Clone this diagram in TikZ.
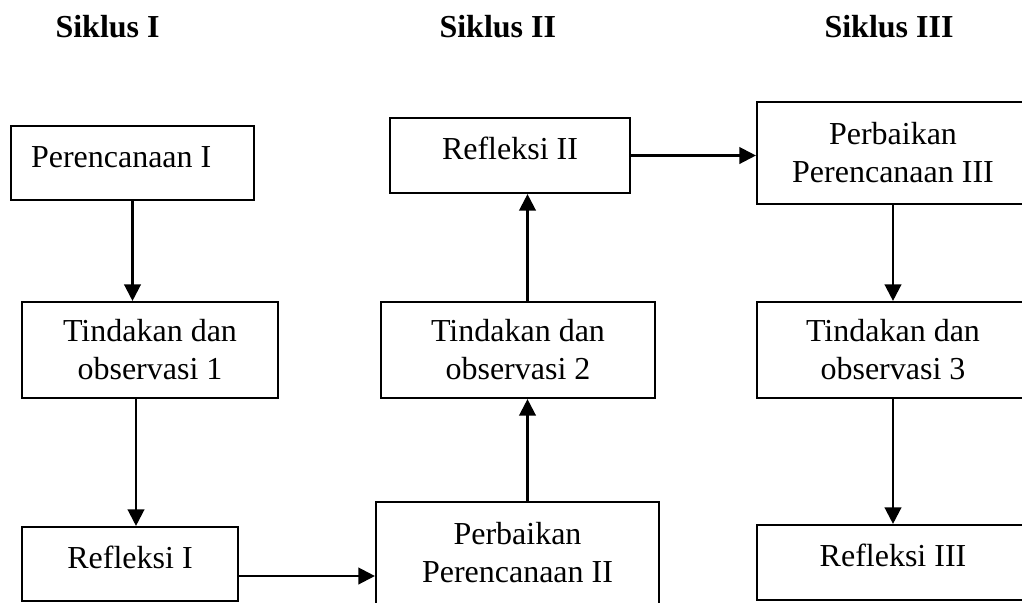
\documentclass[tikz,border=0pt]{standalone}
\usepackage{fontspec}
\setmainfont{Liberation Serif}
\usetikzlibrary{shapes,arrows.meta,positioning,calc}

\begin{document}
\begin{tikzpicture}[x=0.375pt,y=-0.375pt,
    box/.style={draw,line width=0.8pt,inner sep=0pt,font=\fontsize{12}{14.25}\selectfont},
    onebox/.style={box,text height=8pt,text depth=5pt},
    twobox/.style={box,align=center},
    arr/.style={-{Triangle[length=6.2pt,width=6.2pt]},line width=0.85pt},
    title/.style={anchor=base west,inner sep=0pt,font=\fontsize{12}{14.25}\selectfont\bfseries}]
    \useasboundingbox (0,0) rectangle (1022,602);
    \clip (0,0) rectangle (1022,602);

    % Cycle titles
    \node[title] (titI) at (55,37) {Siklus I};
    \node[title] (titII) at (439,37) {Siklus II};
    \node[title] (titIII) at (824,37) {Siklus III};

    % Cycle I
    \node[onebox,minimum width=91.125pt,minimum height=27.75pt] (perI) at (132.5,163) {\makebox[76.125pt][l]{Perencanaan I}};
    \node[twobox,minimum width=96pt,minimum height=36pt] (tinI) at (150,350) {Tindakan dan\\observasi 1};
    \node[onebox,minimum width=81pt,minimum height=27.75pt] (refI) at (130,564) {Refleksi I};

    % Cycle II
    \node[twobox,minimum width=106.125pt,minimum height=38.25pt] (perII) at (517.5,553) {Perbaikan\\Perencanaan II};
    \node[twobox,minimum width=102.75pt,minimum height=36pt] (tinII) at (518,350) {Tindakan dan\\observasi 2};
    \node[onebox,minimum width=90pt,minimum height=28.125pt] (refII) at (510,155.5) {Refleksi II};

    % Cycle III
    \node[twobox,minimum width=102pt,minimum height=38.25pt] (perIII) at (893,153) {Perbaikan\\Perencanaan III};
    \node[twobox,minimum width=102pt,minimum height=36pt] (tinIII) at (893,350) {Tindakan dan\\observasi 3};
    \node[onebox,minimum width=102pt,minimum height=28.125pt] (refIII) at (893,562.5) {Refleksi III};

    % Flows
    \coordinate (aI) at ($(refI.north)+(6,0)$);
    \coordinate (bI) at ($(refI.east)+(0,12)$);
    \coordinate (cII) at ($(perII.north)+(10,0)$);
    \draw[arr] (perI.south) -- (perI.south |- tinI.north);
    \draw[arr] (aI |- tinI.south) -- (aI);
    \draw[arr] (bI) -- (bI -| perII.west);
    \draw[arr] (cII) -- (cII |- tinII.south);
    \draw[arr] (cII |- tinII.north) -- (cII |- refII.south);
    \draw[arr] (refII.east) -- (refII.east -| perIII.west);
    \draw[arr] (perIII.south) -- (perIII.south |- tinIII.north);
    \draw[arr] (tinIII.south) -- (refIII.north);
\end{tikzpicture}
\end{document}
